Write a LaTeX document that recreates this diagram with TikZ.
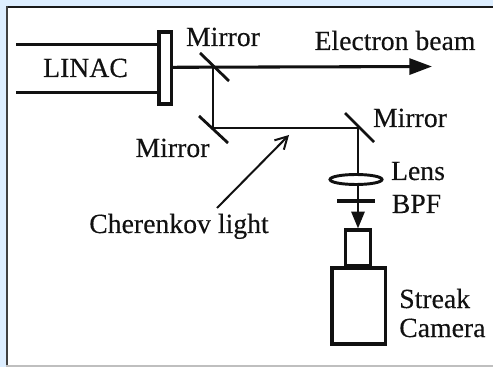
\documentclass[tikz,border=0pt]{standalone}
\usepackage{fontspec}
\setmainfont[FakeBold=0.25]{Liberation Serif}
\usetikzlibrary{arrows.meta,shapes.geometric}
\definecolor{bgblue}{HTML}{DDEEFF}
\definecolor{ink}{HTML}{111111}
\tikzset{
  x=0.75pt,y=-0.75pt,
  lab/.style={inner sep=0pt,anchor=base,text=ink,font=\fontsize{20.8}{24}\selectfont},
  labw/.style={lab,anchor=base west},
  thin beam/.style={draw=ink,line width=1.3pt},
  thick line/.style={draw=ink,line width=2.3pt},
  mirror/.style={draw=ink,line width=2.1pt},
  box/.style={draw=ink,line width=2.5pt,fill=white,inner sep=0pt},
}
\begin{document}
\begin{tikzpicture}
\useasboundingbox (0,0) rectangle (493,367);
\fill[bgblue] (0,0) rectangle (493,367);
\fill[white] (7,7) rectangle (493,366);
\fill[black!90] (6,6) rectangle (493,8);
\fill[black!75] (6,6) rectangle (8,365);
\fill[gray!50] (6,365) rectangle (493,367);
% linac
\coordinate (t1) at (16,44.7);
\coordinate (t2) at (158,44.7);
\coordinate (b1) at (16,92.7);
\coordinate (b2) at (158,92.7);
\draw[thick line] (t1) -- (t2);
\draw[thick line] (b1) -- (b2);
\node[box,minimum width=9.5pt,minimum height=54pt] (win) at (165.3,68) {};
\node[lab] (linac) at (85.5,77) {LINAC};
% electron beam
\coordinate (beamstart) at (172.5,67.3);
\coordinate (beamend) at (432,66.5);
\draw[thick line,-{Triangle[length=17pt,width=12pt]}] (beamstart) -- (beamend);
% mirrors
\coordinate (m1a) at (200,53); \coordinate (m1b) at (229,81);
\coordinate (m2a) at (199,116); \coordinate (m2b) at (228,143);
\coordinate (m3a) at (345,113); \coordinate (m3b) at (374,142);
\draw[mirror] (m1a) -- (m1b);
\draw[mirror] (m2a) -- (m2b);
\draw[mirror] (m3a) -- (m3b);
% light path
\coordinate (j1) at (213,67.3);
\coordinate (j2) at (213,127.7);
\coordinate (j3) at (358,127.7);
\draw[thin beam] (j1) -- (j2) -- (j3);
% lens, filter, camera
\node[draw=ink,line width=2.2pt,ellipse,minimum width=39pt,minimum height=7.5pt,inner sep=0pt] (lens) at (356,179.5) {};
\node[box,minimum width=18.5pt,minimum height=27pt] (neck) at (358,248) {};
\node[box,minimum width=40pt,minimum height=57pt] (cam) at (358.5,306) {};
\coordinate (ltop) at (358,174);
\coordinate (lbot) at (358,185);
\draw[thin beam] (j3) -- (ltop);
\draw[thin beam,-{Triangle[length=12.5pt,width=10pt]}] (lbot) -- (neck.north);
\coordinate (f1) at (337,200.7);
\coordinate (f2) at (375,200.7);
\draw[draw=ink,line width=3pt] (f1) -- (f2);
% cherenkov arrow
\coordinate (c1) at (217,208);
\coordinate (c2) at (289,135);
\draw[draw=ink,line width=1.5pt,-{Straight Barb[length=9pt,width=10pt]}] (c1) -- (c2);
% labels
\node[lab] (lm1) at (223,46) {Mirror};
\node[lab] (lm2) at (172.5,157) {Mirror};
\node[lab] (lm3) at (410,127) {Mirror};
\node[lab] (leb) at (395,50) {Electron beam};
\node[lab] (lens1) at (418,180) {Lens};
\node[lab] (bpf) at (416.5,213) {BPF};
\node[labw] (ck) at (89,233) {Cherenkov light};
\node[labw] (s1) at (399,308) {Streak};
\node[labw] (s2) at (399,337) {Camera};
\end{tikzpicture}
\end{document}
